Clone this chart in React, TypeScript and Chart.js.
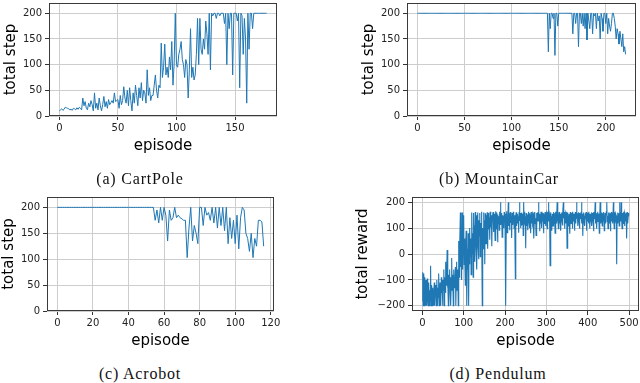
import React, { useEffect, useRef } from "react";
import { Chart, registerables } from "chart.js";
Chart.register(...registerables);

// ---------- data ----------
const cartPoleSteps = [
  10, 12, 14, 11, 13, 17, 16, 15, 14, 12, 13, 11, 15, 14, 12, 16, 13, 17, 15, 12,
  35, 20, 28, 15, 12, 25, 18, 30, 22, 10,
  45, 15, 25, 12, 35, 20, 10, 22, 38, 18,
  28, 15, 32, 22, 26, 30, 25, 45, 28, 30,
  32, 15, 40, 22, 30, 57, 35, 25, 50, 20,
  55, 30, 10, 45, 25, 60, 40, 20, 55, 35,
  65, 30, 50, 45, 25, 90, 40, 55, 30, 40,
  40, 60, 80, 50, 35, 60, 55, 142, 75, 95,
  140, 80, 95, 75, 115, 90, 145, 60, 100, 200,
  100, 95, 120, 130, 145, 110, 100, 75, 110, 100,
  35, 90, 170, 75, 95, 70, 80, 120, 190, 100,
  190, 130, 120, 150, 130, 185, 160, 120, 200, 90,
  200, 195, 200, 200, 190, 200, 200, 195, 200, 200,
  200, 180, 200, 100, 200, 170, 200, 200, 80, 200,
  200, 200, 185, 200, 55, 200, 195, 120, 190, 150,
  25, 200, 130, 200, 200, 170, 200, 200, 200, 200,
  200, 200, 200, 200, 200, 200, 200, 200,
];

const mountainCarSteps = [
  200, 200, 200, 200, 200, 200, 200, 200, 200, 200, 200, 200, 200, 200, 200, 200, 200, 200, 200, 200,
  200, 200, 200, 200, 200, 200, 200, 200, 200, 200, 200, 200, 200, 200, 200, 200, 200, 200, 200, 200,
  200, 200, 200, 200, 200, 200, 200, 200, 200, 200, 200, 200, 200, 200, 200, 200, 200, 200, 200, 200,
  200, 200, 200, 200, 200, 200, 200, 200, 200, 200, 200, 200, 200, 200, 200, 200, 200, 200, 200, 200,
  200, 200, 200, 200, 200, 200, 200, 200, 200, 200, 200, 200, 200, 200, 200, 200, 200, 200, 200, 200,
  200, 200, 200, 200, 200, 200, 200, 200, 200, 200, 200, 200, 200, 200, 200, 200, 200, 200, 200, 200,
  200, 200, 200, 200, 200, 200, 200, 200, 200, 200, 200, 200, 200, 200, 200, 200, 200, 200,
  200, 125, 200, 170, 200, 200, 190, 200, 118, 200, 200, 175,
  200, 200, 200, 200, 200, 200, 200, 200, 200, 200, 200, 200, 200, 200,
  200, 160, 200, 200, 180, 200, 200, 135, 200, 200,
  180, 200, 175, 200, 170, 200, 148, 200, 185, 170,
  200, 200, 160, 200, 195, 200, 170, 200, 185, 195,
  150, 200, 190, 165, 200, 200, 180, 200, 160, 190,
  175, 165, 180, 200, 200, 190, 175, 150, 170, 160,
  140, 165, 150, 135, 160, 125, 135, 120,
];

const acrobotSteps = [
  200, 200, 200, 200, 200, 200, 200, 200, 200, 200, 200, 200, 200, 200, 200, 200, 200, 200,
  200, 200, 200, 200, 200, 200, 200, 200, 200, 200, 200, 200, 200, 200, 200, 200, 200, 200,
  200, 200, 200, 200, 200, 200, 200, 200, 200, 200, 200, 200, 200, 200, 200, 200, 200, 200,
  200, 175, 195, 170, 200, 175, 200, 185, 135, 195,
  175, 180, 200, 180, 185, 180, 178, 175, 175, 103,
  160, 200, 135, 165, 150, 130, 200, 200, 165, 200,
  185, 190, 175, 200, 170, 200, 160, 200, 165, 200,
  155, 200, 130, 180, 140, 175, 130, 185, 120, 180,
  200, 195, 150, 140, 115, 150, 103, 140, 125, 175,
  175, 172, 125,
];

const pendulumRewards = [
  -180, -70, -200, -120, -75, -200, -90, -160, -200, -100,
  -130, -200, -95, -170, -200, -150, -110, -200, -140, -180,
  -45, -200, -160, -120, -200, -130, -170, -200, -150, -110,
  -200, -140, -160, -120, -200, -100, -150, -200, -130, -170,
  -75, -200, -140, -110, -160, -200, -90, -150, -120, -200,
  -100, -140, -60, -200, -110, -90, -150, -30, -120, -80,
  15, -130, -100, -200, -80, -120, -60, -150, -90, -200,
  -110, -15, -140, -80, -100, -200, -60, -130, -90, -120,
  -50, -200, -100, -30, -140, -80, -60, -200, 50, -90,
  -20, 40, 160, -50, 80, -100, 160, 20, -60, 100,
  150, -40, 60, 0, -120, 40, 90, -30, -200, 20,
  -60, 80, -200, 30, -40, 100, -10, 60, -80, 120,
  160, 0, 80, -90, 158, 40, 110, -30, 162, 60,
  10, 150, -60, 90, 160, 30, -20, 130, 70, 158,
  -10, 120, 40, 163, 80, -200, 100, 20, 160, 60,
  130, -40, 157, 90, 40, 150, 110, 161, 20, 130,
  158, 95, 142, 55, 163, 118, 102, 150, 30, 138,
  148, 162, 85, 128, 155, 112, 52, 165, 140, 98,
  160, 128, 45, 152, 118, 146, 92, 163, 126, 200,
  112, 158, 138, 65, 150, 122, 147, 100, 162, 128,
  138, 155, -200, 118, 165, 82, 148, 128, 200, 108,
  157, 92, 138, 162, 120, 146, 62, 158, 125, 112,
  163, 138, 98, 150, 118, -95, 148, 161, 108, 135,
  155, 118, 146, 82, 162, 200, 128, 158, 100, 148,
  160, 110, 136, 155, 72, 200, 128, 163, 118, 146,
  22, 158, 138, 108, 152, 92, 145, 163, 126, 100,
  157, 140, 80, 162, 118, 147, 155, 102, 136, 160,
  60, 146, 162, 118, 138, 72, 158, 108, 150, 161,
  128, 200, 138, 155, 88, 148, 118, 163, 136, 100,
  160, 126, 150, 80, 157, 118, 140, 162, 108, 147,
  158, 136, 98, 163, 128, 200, 148, 156, 118, -45,
  161, 128, 146, 90, 155, 138, 108, 162, 145, 118,
  157, 80, 138, 163, 120, 147, 200, 126, 158, 98,
  148, 162, 118, 136, 155, 90, 146, 160, 128, 110,
  158, 200, 138, 162, 98, 146, 157, 118, 140, 163,
  22, 146, 160, 108, 136, 155, 126, 78, 162, 147,
  118, 158, 138, 98, 163, 146, 126, 155, 90, 138,
  162, 118, 148, 200, 136, 157, 108, 146, 161, 126,
  98, 158, 136, 147, 163, 200, 118, 155, 70, 138,
  160, 126, 148, 108, 157, 136, 162, 90, 146, 128,
  158, 138, 118, 163, 146, 98, 155, 126, 136, 161,
  108, 147, 158, 126, 88, 162, 136, 148, 200, 118,
  157, 136, 98, 146, 163, 126, 148, 156, 80, 138,
  200, 146, 118, 160, 136, 108, 157, 148, 126, 162,
  90, 138, 158, 118, 146, 163, 200, 126, 148, 98,
  160, 136, 147, 118, 157, 88, 146, 162, 126, 138,
  158, 118, 200, 146, 98, 161, 136, 126, 155, 148,
  -40, 147, 160, 118, 136, 157, 108, 200, 146, 162,
  126, 200, 136, 98, 158, 146, 118, 163, 138, 108,
  157, 146, 126, 160, 60, 136, 162, 118, 148, 158,
];

const stepTicks = [0, 50, 100, 150, 200];
const rewardTicks = [-200, -100, 0, 100, 200];
const cartPoleXTicks = [0, 50, 100, 150];
const mountainCarXTicks = [0, 50, 100, 150, 200];
const acrobotXTicks = [0, 20, 40, 60, 80, 100, 120];
const pendulumXTicks = [0, 100, 200, 300, 400, 500];

const captions = ["(a) CartPole", "(b) MountainCar", "(c) Acrobot", "(d) Pendulum"];

// ---------- layout ----------
const PT = 10;
const PR = 12;
const XH = 40;
const FONT = "'DejaVu Sans', sans-serif";

const boxPlugin = {
  id: "box",
  afterDraw(chart: any) {
    const { ctx, chartArea: a } = chart;
    ctx.save();
    ctx.strokeStyle = "#3a3a3a";
    ctx.lineWidth = 1;
    ctx.strokeRect(a.left + 0.5, a.top + 0.5, a.right - a.left - 1, a.bottom - a.top - 1);
    ctx.restore();
  },
};

const fmt = (v: number) => (v < 0 ? "\u2212" + Math.abs(v) : String(v));

type PanelProps = {
  L: number; T: number; R: number; B: number;
  yW: number; yTitlePad: number; xTitlePad: number;
  values: number[]; lw: number;
  xMin: number; xMax: number; xTicks: number[];
  yMin: number; yMax: number; yTicks: number[];
  yTitle: string;
};

function Panel(p: PanelProps) {
  const ref = useRef<HTMLCanvasElement>(null);
  const w = p.yW + (p.R - p.L) + PR;
  const h = PT + (p.B - p.T) + XH;
  useEffect(() => {
    const gridOpts = {
      color: "#cdcdcd",
      lineWidth: 1,
      drawTicks: true,
      tickLength: 4,
      tickColor: "#333",
      tickWidth: 1,
    };
    const c = new Chart(ref.current as HTMLCanvasElement, {
      type: "line",
      data: {
        datasets: [
          {
            data: p.values.map((v, i) => ({ x: i, y: v })),
            borderColor: "#1f77b4",
            borderWidth: p.lw,
            pointRadius: 0,
            tension: 0,
            fill: false,
          },
        ],
      },
      options: {
        animation: false,
        responsive: false,
        devicePixelRatio: 1,
        layout: { padding: { top: PT, right: PR, left: 0, bottom: 0 } },
        plugins: { legend: { display: false }, tooltip: { enabled: false } },
        scales: {
          x: {
            type: "linear",
            min: p.xMin,
            max: p.xMax,
            afterBuildTicks: (s: any) => {
              s.ticks = p.xTicks.map((v) => ({ value: v }));
            },
            afterFit: (s: any) => {
              s.height = XH;
            },
            grid: gridOpts,
            border: { display: false },
            ticks: {
              autoSkip: false,
              maxRotation: 0,
              padding: 2,
              color: "#222",
              font: { family: FONT, size: 10 },
              callback: (v: any) => fmt(Number(v)),
            },
            title: {
              display: true,
              text: "episode",
              color: "#000",
              font: { family: FONT, size: 15 },
              padding: { top: 0, bottom: p.xTitlePad },
            },
          },
          y: {
            type: "linear",
            min: p.yMin,
            max: p.yMax,
            afterBuildTicks: (s: any) => {
              s.ticks = p.yTicks.map((v) => ({ value: v }));
            },
            afterFit: (s: any) => {
              s.width = p.yW;
            },
            grid: gridOpts,
            border: { display: false },
            ticks: {
              autoSkip: false,
              padding: 3,
              color: "#222",
              font: { family: FONT, size: 10 },
              callback: (v: any) => fmt(Number(v)),
            },
            title: {
              display: true,
              text: p.yTitle,
              color: "#000",
              font: { family: FONT, size: 15 },
              padding: { top: p.yTitlePad, bottom: 0 },
            },
          },
        },
      } as any,
      plugins: [boxPlugin],
    });
    return () => c.destroy();
  }, []);
  return (
    <canvas
      ref={ref}
      width={w}
      height={h}
      style={{
        position: "absolute",
        left: p.L - p.yW,
        top: p.T - PT,
        width: w,
        height: h,
      }}
    />
  );
}

function Caption({ text, cx, cy }: { text: string; cx: number; cy: number }) {
  return (
    <div
      style={{
        position: "absolute",
        left: cx,
        top: cy - 9,
        transform: "translateX(-50%)",
        fontFamily: "'Liberation Serif', 'Times New Roman', serif",
        fontSize: 16,
        lineHeight: "18px",
        letterSpacing: "0.8px",
        whiteSpace: "nowrap",
        color: "#111",
      }}
    >
      {text}
    </div>
  );
}

export default function App() {
  return (
    <div
      style={{
        position: "fixed",
        left: 0,
        top: 0,
        width: 640,
        height: 383,
        background: "#fff",
        overflow: "hidden",
      }}
    >
      <Panel L={49} T={3} R={277} B={116} yW={49} yTitlePad={2} xTitlePad={1}
        values={cartPoleSteps} lw={1} xMin={-8.85} xMax={185.85} xTicks={cartPoleXTicks}
        yMin={0} yMax={220} yTicks={stepTicks} yTitle="total step" />
      <Panel L={407} T={3} R={636} B={116} yW={49} yTitlePad={2} xTitlePad={1}
        values={mountainCarSteps} lw={1} xMin={-11.05} xMax={232.05} xTicks={mountainCarXTicks}
        yMin={0} yMax={220} yTicks={stepTicks} yTitle="total step" />
      <Panel L={47} T={197} R={274} B={311} yW={47} yTitlePad={0} xTitlePad={1}
        values={acrobotSteps} lw={1} xMin={-5.8} xMax={121.8} xTicks={acrobotXTicks}
        yMin={0} yMax={220} yTicks={stepTicks} yTitle="total step" />
      <Panel L={412} T={197} R={639} B={311} yW={58} yTitlePad={0} xTitlePad={1}
        values={pendulumRewards} lw={1.1} xMin={-24.95} xMax={523.95} xTicks={pendulumXTicks}
        yMin={-220} yMax={220} yTicks={rewardTicks} yTitle="total reward" />
      <Caption text={captions[0]} cx={140} cy={179} />
      <Caption text={captions[1]} cx={499} cy={179} />
      <Caption text={captions[2]} cx={140} cy={374} />
      <Caption text={captions[3]} cx={498} cy={374} />
    </div>
  );
}
